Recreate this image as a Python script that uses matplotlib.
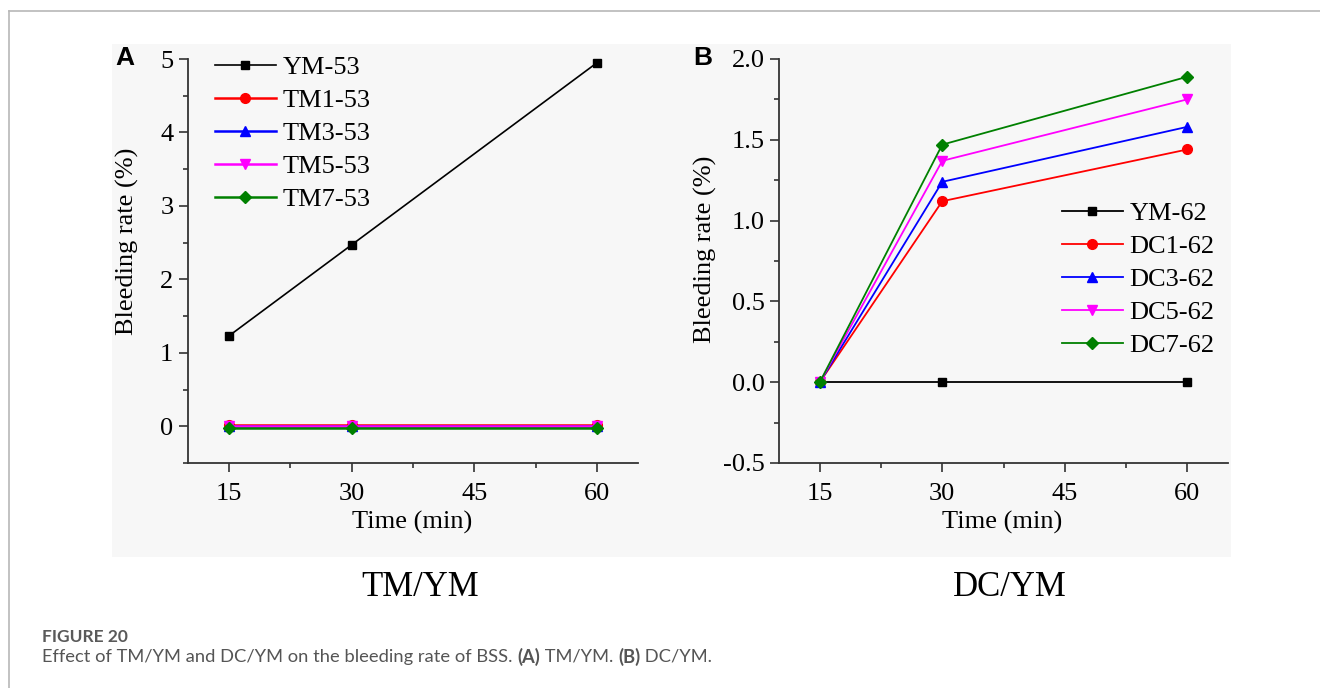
import matplotlib
matplotlib.use("Agg")
import matplotlib.pyplot as plt
from matplotlib.lines import Line2D
from matplotlib.patches import Rectangle
from matplotlib.ticker import FuncFormatter, MultipleLocator

# bleeding rate (%) vs time (min)
TIME = [15, 30, 60]

TM_LABELS = ["YM-53", "TM1-53", "TM3-53", "TM5-53", "TM7-53"]
YM_53 = [1.23, 2.47, 4.95]
TM1_53 = [0.02, 0.02, 0.02]
TM3_53 = [0.01, 0.01, 0.01]
TM5_53 = [0.01, 0.01, 0.01]
TM7_53 = [-0.03, -0.03, -0.03]

DC_LABELS = ["YM-62", "DC1-62", "DC3-62", "DC5-62", "DC7-62"]
YM_62 = [0.0, 0.0, 0.0]
DC1_62 = [0.0, 1.12, 1.44]
DC3_62 = [0.0, 1.24, 1.58]
DC5_62 = [0.0, 1.37, 1.75]
DC7_62 = [0.0, 1.47, 1.89]

COLORS = ["black", "#ff0000", "#0000ff", "#ff00ff", "#008000"]
MARKERS = ["s", "o", "^", "v", "D"]
MSIZES = [6, 7, 7, 7, 6.5]

SERIF = "Liberation Serif"
W, H = 1320, 688


def fx(px):
    return px / W


def fy(py):
    return 1 - py / H


def style_axes(ax, ylim, ymajor, yminor, ndec):
    ax.set_facecolor("none")
    for side in ("top", "right"):
        ax.spines[side].set_visible(False)
    for side in ("left", "bottom"):
        ax.spines[side].set_linewidth(1.3)
        ax.spines[side].set_color("#333333")
    ax.set_xlim(10, 65)
    ax.set_ylim(*ylim)
    ax.set_xticks([15, 30, 45, 60])
    ax.xaxis.set_minor_locator(MultipleLocator(7.5))
    ax.yaxis.set_major_locator(MultipleLocator(ymajor))
    ax.yaxis.set_minor_locator(MultipleLocator(yminor))
    # plain hyphen for negatives
    ax.yaxis.set_major_formatter(FuncFormatter(lambda v, pos: f"{v:.{ndec}f}"))
    ax.tick_params(which="major", direction="out", length=6.5, width=1.2,
                   color="#333333", labelsize=19, pad=4)
    ax.tick_params(which="minor", direction="out", length=3.5, width=1.2,
                   color="#333333")
    ax.tick_params(axis="x", which="major", pad=8)
    for lab in ax.get_xticklabels() + ax.get_yticklabels():
        lab.set_fontfamily(SERIF)
    ax.set_xlabel("Time (min)", family=SERIF, fontsize=19)
    ax.set_ylabel("Bleeding rate (%)", family=SERIF, fontsize=19)


def draw_series(ax, series, labels, widths):
    for vals, lab, c, m, ms, lw in zip(series, labels, COLORS, MARKERS, MSIZES, widths):
        ax.plot(TIME, vals, color=c, marker=m, markersize=ms, linewidth=lw,
                label=lab, clip_on=False, zorder=3)


def add_legend(ax, fig, left_px, top_px):
    leg = ax.legend(loc="upper left", bbox_to_anchor=(fx(left_px), fy(top_px)),
                    bbox_transform=fig.transFigure, frameon=False,
                    borderpad=0, borderaxespad=0, handlelength=2.3,
                    handletextpad=0.25, labelspacing=0.36,
                    prop={"family": SERIF, "size": 19})
    return leg


fig = plt.figure(figsize=(W / 100, H / 100), dpi=100)

# page frame and image backdrop
fig.add_artist(Line2D([fx(9), 1], [fy(11), fy(11)], color="#b8b8b8", linewidth=1.2))
fig.add_artist(Line2D([fx(9), fx(9)], [fy(11), 0], color="#b8b8b8", linewidth=1.2))
fig.add_artist(Rectangle((fx(112), fy(557)), fx(1231) - fx(112), fy(44) - fy(557),
                         transform=fig.transFigure, facecolor="#f7f7f7",
                         edgecolor="none", zorder=0))

ax_a = fig.add_axes([fx(188), fy(463), fx(638) - fx(188), fy(59) - fy(463)])
ax_b = fig.add_axes([fx(779), fy(463), fx(1228) - fx(779), fy(59) - fy(463)])

draw_series(ax_a, [YM_53, TM1_53, TM3_53, TM5_53, TM7_53], TM_LABELS,
            [1.2, 1.8, 1.8, 1.8, 1.8])
style_axes(ax_a, (-0.5, 5), 1, 0.5, 0)
ax_a.yaxis.set_label_coords(-0.109, 0.548)
add_legend(ax_a, fig, 215, 56)

draw_series(ax_b, [YM_62, DC1_62, DC3_62, DC5_62, DC7_62], DC_LABELS,
            [1.3, 1.3, 1.3, 1.3, 1.3])
style_axes(ax_b, (-0.5, 2.0), 0.5, 0.25, 1)
ax_b.yaxis.set_label_coords(-0.138, 0.53)
add_legend(ax_b, fig, 1062, 202)

for ax in (ax_a, ax_b):
    ax.xaxis.set_label_coords(0.497, -0.118)

fig.text(fx(125), fy(58), "A", family="Liberation Sans", weight="bold",
         fontsize=19, ha="center", va="center")
fig.text(fx(703), fy(58), "B", family="Liberation Sans", weight="bold",
         fontsize=19, ha="center", va="center")
fig.text(fx(420), fy(587), "TM/YM", family=SERIF, fontsize=25,
         ha="center", va="center")
fig.text(fx(1010), fy(587), "DC/YM", family=SERIF, fontsize=25,
         ha="center", va="center")

# caption, with bold panel references
fig.text(fx(42), fy(637), "FIGURE 20", family="Lato", weight="bold",
         fontsize=12.5, color="#5a5a5a", ha="left", va="center")
parts = [("Effect of TM/YM and DC/YM on the bleeding rate of BSS. ", "normal"),
         ("(A)", "bold"), (" TM/YM. ", "normal"), ("(B)", "bold"),
         (" DC/YM.", "normal")]
renderer = fig.canvas.get_renderer()
x = fx(42)
for txt, wt in parts:
    t = fig.text(x, fy(657), txt, family="Lato", weight=wt, fontsize=13.2,
                 color="#555555", ha="left", va="center")
    bb = t.get_window_extent(renderer=renderer)
    x = bb.x1 / W

fig.savefig("out.png", dpi=100)
